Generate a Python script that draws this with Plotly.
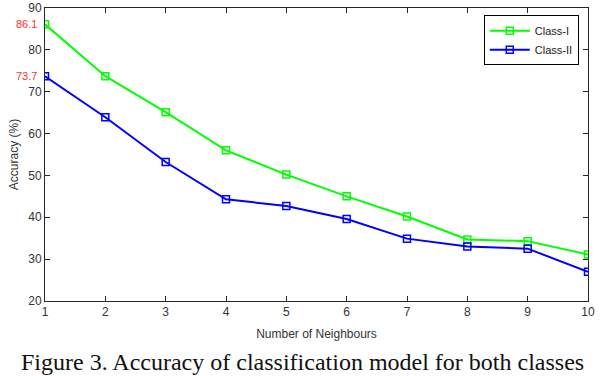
import plotly.graph_objects as go

neighbours = [1, 2, 3, 4, 5, 6, 7, 8, 9, 10]
class_1 = [86.1, 73.7, 65.1, 56.0, 50.2, 45.0, 40.2, 34.7, 34.3, 31.1]
class_2 = [73.7, 63.9, 53.2, 44.3, 42.7, 39.6, 34.9, 33.0, 32.5, 27.0]
y_ticks = [20, 30, 40, 50, 60, 70, 80, 90]
label_values = [86.1, 73.7]

fig = go.Figure()
fig.add_trace(go.Scatter(x=neighbours, y=class_1, name="Class-I", mode="lines+markers",
                         line=dict(color="#00ff00", width=2),
                         marker=dict(symbol="square-open", size=7, color="#00ff00", line=dict(width=1.5))))
fig.add_trace(go.Scatter(x=neighbours, y=class_2, name="Class-II", mode="lines+markers",
                         line=dict(color="#0000ff", width=2),
                         marker=dict(symbol="square-open", size=7, color="#0000ff", line=dict(width=1.5))))

for v in label_values:
    fig.add_annotation(x=0, xref="paper", xanchor="right", xshift=-6, y=v, yref="y",
                       text=str(v), showarrow=False, font=dict(color="#ff3030", size=11, family="Liberation Sans"))

fig.add_annotation(x=0.5, xref="paper", y=0, yref="paper", yanchor="bottom", xanchor="center", yshift=-76,
                   xshift=-14,
                   text="Figure 3. Accuracy of classification model for both classes",
                   showarrow=False, font=dict(family="Liberation Serif", size=24, color="#111111"))

axis_common = dict(showline=True, linecolor="#262626", linewidth=1, mirror="ticks", ticks="inside",
                   ticklen=5, tickcolor="#262626", showgrid=False, zeroline=False, automargin=False,
                   ticklabeloverflow="allow",
                   tickfont=dict(family="Liberation Sans", size=12, color="#333333"))
fig.update_xaxes(range=[1, 10], tickvals=neighbours, title=dict(text="Number of Neighbours", standoff=11,
                 font=dict(family="Liberation Sans", size=12, color="#333333")), **axis_common)
fig.update_yaxes(range=[20, 90], tickvals=y_ticks, title=dict(text="Accuracy (%)", standoff=7,
                 font=dict(family="Liberation Sans", size=12, color="#333333")), **axis_common)

fig.update_layout(width=602, height=376, margin=dict(l=45, r=14, t=8, b=75, autoexpand=False),
                  plot_bgcolor="white", paper_bgcolor="white", showlegend=True,
                  legend=dict(x=0.983, y=0.975, xanchor="right", yanchor="top", bordercolor="#000000",
                              borderwidth=1, bgcolor="white", font=dict(family="Liberation Sans", size=11, color="#222"),
                              tracegroupgap=0, itemwidth=40))
fig.write_html("out.html", config={"displayModeBar": False},
               post_script="document.body.style.margin='0';document.body.style.overflow='hidden';")
